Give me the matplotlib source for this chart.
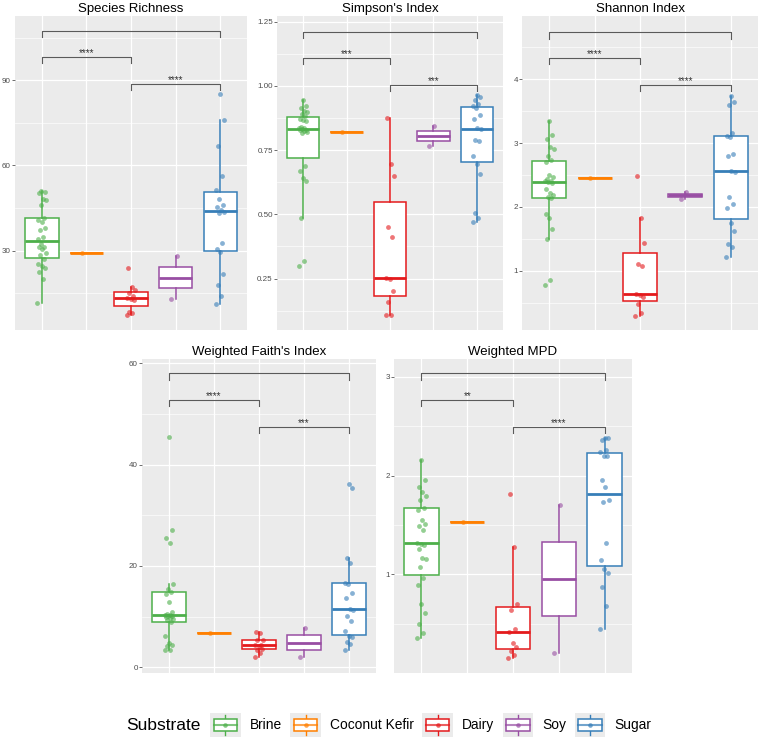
import matplotlib.pyplot as plt
import numpy as np
from matplotlib.legend_handler import HandlerBase
from matplotlib.lines import Line2D
from matplotlib.patches import Rectangle
from matplotlib.ticker import FormatStrFormatter

plt.rcParams["font.family"] = ["Liberation Sans", "DejaVu Sans"]

substrates = ["Brine", "Coconut Kefir", "Dairy", "Soy", "Sugar"]
colors = ["#4DAF4A", "#FF7F00", "#E41A1C", "#984EA3", "#377EB8"]

# values per substrate
richness = [
    [11.6, 20.1, 22.6, 24.0, 24.4, 25.2, 26.9, 28.5, 29.1, 30.4, 31.1, 31.2, 32.2,
     34.2, 34.9, 37.1, 37.9, 40.2, 40.8, 41.6, 45.9, 47.9, 48.1, 50.3, 50.5, 51.0],
    [29.1],
    [7.2, 7.9, 8.4, 12.6, 12.9, 13.1, 13.8, 15.0, 16.0, 17.1, 23.8],
    [12.8, 28.1],
    [11.1, 13.8, 18.0, 21.8, 29.6, 30.7, 32.7, 43.1, 43.6, 44.1, 45.3, 45.9, 48.2,
     51.2, 56.1, 66.9, 75.9, 85.2],
]
simpson = [
    [0.298, 0.318, 0.487, 0.631, 0.640, 0.669, 0.689, 0.817, 0.820, 0.825, 0.828, 0.830,
     0.832, 0.835, 0.836, 0.840, 0.863, 0.869, 0.871, 0.884, 0.892, 0.897, 0.901, 0.915,
     0.920, 0.947],
    [0.820],
    [0.108, 0.110, 0.160, 0.202, 0.250, 0.251, 0.412, 0.450, 0.649, 0.696, 0.876],
    [0.768, 0.843],
    [0.472, 0.485, 0.504, 0.657, 0.696, 0.728, 0.786, 0.791, 0.832, 0.836, 0.872, 0.888,
     0.915, 0.920, 0.928, 0.947, 0.956, 0.963],
]
shannon = [
    [0.77, 0.85, 1.50, 1.66, 1.82, 1.89, 2.14, 2.15, 2.19, 2.22, 2.28, 2.37, 2.385,
     2.40, 2.41, 2.44, 2.46, 2.505, 2.70, 2.73, 2.79, 2.90, 2.94, 3.06, 3.125, 3.35],
    [2.45],
    [0.29, 0.33, 0.474, 0.59, 0.615, 0.64, 1.07, 1.11, 1.44, 1.82, 2.49],
    [2.13, 2.23],
    [1.22, 1.37, 1.41, 1.62, 1.745, 1.98, 2.05, 2.15, 2.55, 2.56, 2.80, 2.82, 3.10,
     3.115, 3.15, 3.60, 3.635, 3.74],
]
faith = [
    [3.4, 3.5, 4.2, 4.5, 4.85, 6.2, 8.9, 9.4, 9.6, 9.8, 10.0, 10.1, 10.2, 10.3, 10.4,
     10.5, 11.0, 12.8, 14.5, 14.9, 15.5, 16.5, 24.6, 25.5, 27.1, 45.4],
    [6.7],
    [2.1, 2.9, 3.4, 3.7, 4.2, 4.46, 4.5, 5.4, 5.5, 6.7, 6.9],
    [2.0, 7.8],
    [3.5, 4.6, 5.0, 6.0, 6.2, 7.2, 9.1, 10.2, 11.3, 11.6, 13.7, 14.6, 16.5, 16.7,
     20.6, 21.6, 35.3, 36.1],
]
mpd = [
    [0.358, 0.409, 0.497, 0.605, 0.70, 0.89, 0.966, 1.07, 1.15, 1.16, 1.26, 1.30, 1.305,
     1.32, 1.445, 1.49, 1.505, 1.55, 1.65, 1.675, 1.755, 1.79, 1.835, 1.885, 1.95, 2.16],
    [1.53],
    [0.149, 0.179, 0.223, 0.264, 0.307, 0.419, 0.446, 0.635, 0.696, 1.28, 1.81],
    [0.206, 1.70],
    [0.443, 0.676, 0.87, 1.01, 1.057, 1.149, 1.32, 1.736, 1.75, 1.885, 1.956, 2.193,
     2.20, 2.243, 2.257, 2.36, 2.375, 2.385],
]

# significance brackets: (group a, group b, height, label)
richness_sig = [(1, 5, 107.4, ""), (1, 3, 98.2, "****"), (3, 5, 88.8, "****")]
simpson_sig = [(1, 5, 1.209, ""), (1, 3, 1.108, "***"), (3, 5, 1.005, "***")]
shannon_sig = [(1, 5, 4.734, ""), (1, 3, 4.33, "****"), (3, 5, 3.91, "****")]
faith_sig = [(1, 5, 57.97, ""), (1, 3, 52.7, "****"), (3, 5, 47.45, "***")]
mpd_sig = [(1, 5, 3.034, ""), (1, 3, 2.764, "**"), (3, 5, 2.49, "****")]

W, H = 760, 741


def px_axes(fig, left, right, top, bottom):
    return fig.add_axes([left / W, 1 - bottom / H, (right - left) / W, (bottom - top) / H])


def jitter(n):
    return ((np.arange(n) * 0.618034) % 1 - 0.5) * 0.2


def panel(ax, title, groups, sig, ylim, majors, minors, fmt):
    ax.set_facecolor("#EBEBEB")
    for s in ax.spines.values():
        s.set_visible(False)
    pos = np.arange(1, len(groups) + 1)
    bp = ax.boxplot(groups, positions=pos, widths=0.75, whis=1.5, showfliers=False,
                    showcaps=False, patch_artist=True, zorder=2)
    for k, c in enumerate(colors):
        bp["boxes"][k].set(facecolor="white", edgecolor=c, linewidth=1.1)
        bp["medians"][k].set(color=c, linewidth=2.0)
        for w in bp["whiskers"][2 * k:2 * k + 2]:
            w.set(color=c, linewidth=1.1)
        vals = np.asarray(groups[k])
        ax.scatter(pos[k] + jitter(len(vals)), vals, s=12, color=c, alpha=0.6,
                   linewidths=0, zorder=3)
    lo, hi = ylim
    tip = 0.02 * (hi - lo)
    for a, b, y, lab in sig:
        ax.plot([a, a, b, b], [y - tip, y, y, y - tip], color="#5A5A5A", lw=0.8, zorder=4)
        if lab:
            ax.annotate(lab, xy=((a + b) / 2, y), xytext=(0, 0.6), textcoords="offset points",
                        ha="center", va="baseline", fontsize=7, color="#333333")
    ax.set_xlim(0.4, 5.6)
    ax.set_ylim(lo, hi)
    ax.set_xticks(pos)
    ax.set_xticklabels([])
    ax.set_yticks(majors)
    ax.set_yticks(minors, minor=True)
    ax.yaxis.set_major_formatter(FormatStrFormatter(fmt))
    ax.tick_params(axis="x", length=0)
    ax.tick_params(axis="y", which="major", length=2, width=0.5, color="#333333",
                   labelsize=5.8, labelcolor="#4D4D4D", pad=1)
    ax.tick_params(axis="y", which="minor", length=0)
    ax.set_axisbelow(True)
    ax.grid(which="major", color="white", lw=0.9)
    ax.grid(which="minor", axis="y", color="white", lw=0.45)
    ax.set_title(title, fontsize=9.5, pad=3)


class BoxKey(HandlerBase):
    def create_artists(self, legend, orig_handle, xdescent, ydescent, width, height,
                       fontsize, trans):
        c = orig_handle.get_color()
        x0, y0 = -xdescent, -ydescent
        cx, cy = x0 + width / 2, y0 + height / 2
        bg = Rectangle((x0, y0), width, height, facecolor="#EBEBEB", edgecolor="none",
                       transform=trans)
        wh = Line2D([cx, cx], [y0 + 0.08 * height, y0 + 0.92 * height], color=c, lw=1.0,
                    transform=trans)
        box = Rectangle((x0 + 0.12 * width, y0 + 0.23 * height), 0.76 * width, 0.54 * height,
                        facecolor="white", edgecolor=c, lw=1.1, transform=trans)
        med = Line2D([x0 + 0.12 * width, x0 + 0.88 * width], [cy, cy], color=c, lw=1.5,
                     alpha=0.7, transform=trans)
        dot = Line2D([cx], [cy], marker="o", ms=3.3, mew=0, color=c, alpha=0.7, ls="none",
                     transform=trans)
        return [bg, wh, box, med, dot]


def main():
    fig = plt.figure(figsize=(W / 100, H / 100), dpi=100)

    panel(px_axes(fig, 15, 247, 16, 330), "Species Richness", richness, richness_sig,
          (2.0, 112.6), [30, 60, 90], [15, 45, 75, 105], "%d")
    panel(px_axes(fig, 277, 503, 16, 330), "Simpson's Index", simpson, simpson_sig,
          (0.05, 1.272), [0.25, 0.5, 0.75, 1.0, 1.25],
          [0.125, 0.375, 0.625, 0.875, 1.125], "%.2f")
    panel(px_axes(fig, 522, 758, 16, 330), "Shannon Index", shannon, shannon_sig,
          (0.07, 4.99), [1, 2, 3, 4], [0.5, 1.5, 2.5, 3.5, 4.5], "%d")
    panel(px_axes(fig, 142, 376, 359, 673), "Weighted Faith's Index", faith, faith_sig,
          (-1.1, 60.8), [0, 20, 40, 60], [10, 30, 50], "%d")
    panel(px_axes(fig, 394, 632, 359, 673), "Weighted MPD", mpd, mpd_sig,
          (0.0, 3.18), [1, 2, 3], [0.5, 1.5, 2.5], "%d")

    handles = [Line2D([], [], color=c) for c in colors]
    fig.legend(handles, substrates, handler_map={h: BoxKey() for h in handles},
               loc="center left", bbox_to_anchor=(210 / W, 1 - 725 / H), ncol=5,
               frameon=False, fontsize=9.9, handlelength=2.25, handleheight=2.25,
               handletextpad=0.65, columnspacing=0.6, borderpad=0, borderaxespad=0)
    fig.text(201 / W, 1 - 725 / H, "Substrate", ha="right", va="center", fontsize=12.5)

    fig.savefig("out.png", dpi=100)


if __name__ == "__main__":
    main()
